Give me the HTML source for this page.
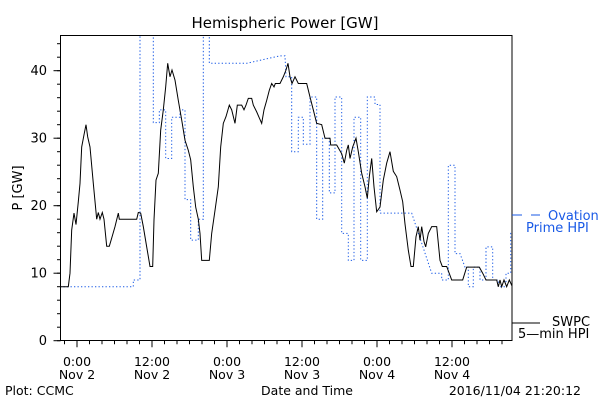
<!DOCTYPE html>
<html><head><meta charset="utf-8"><style>
html,body{margin:0;padding:0;background:#fff;}
svg{display:block;font-family:"DejaVu Sans","Liberation Sans",sans-serif;}
</style></head><body>
<svg id="chart" width="600" height="400" viewBox="0 0 600 400">
<defs><clipPath id="plotclip"><rect x="60.5" y="35.5" width="451.5" height="305"/></clipPath></defs>
<text x="285" y="28" text-anchor="middle" font-size="15" fill="#000">Hemispheric Power [GW]</text>
<text transform="translate(22,188) rotate(-90)" text-anchor="middle" font-size="13" fill="#000">P [GW]</text>
<text x="307" y="395" text-anchor="middle" font-size="12.5" fill="#000">Date and Time</text>
<text x="5" y="395" font-size="12.5" fill="#000">Plot: CCMC</text>
<text x="581" y="395" text-anchor="end" font-size="12.5" fill="#000">2016/11/04 21:20:12</text>
<g id="axes"></g>
<g id="series" clip-path="url(#plotclip)"></g>
<rect x="60.5" y="35.5" width="451.5" height="305" fill="none" stroke="#000" stroke-width="1"/>
<g>
<line x1="512" y1="215" x2="522" y2="215" stroke="#1a5ae6" stroke-width="1"/>
<line x1="531" y1="215" x2="540" y2="215" stroke="#1a5ae6" stroke-width="1"/>
<text x="548" y="220" font-size="13" fill="#1a5ae6">Ovation</text>
<text x="526" y="232" font-size="13" fill="#1a5ae6">Prime HPI</text>
</g>
<g>
<line x1="512" y1="323" x2="540" y2="323" stroke="#000" stroke-width="1"/>
<text x="552" y="326" font-size="13" fill="#000">SWPC</text>
<text x="518" y="338" font-size="13" fill="#000">5—min HPI</text>
</g>
</svg>
<script>
const swpcHours=[-2.72,-1.39,-1.12,-0.85,-0.48,-0.16,0.21,0.48,0.75,1.12,1.44,1.71,2.08,2.61,3.15,3.41,3.68,4.05,4.32,4.75,5.17,5.55,6.08,6.61,6.77,9.55,9.81,10.19,10.61,11.15,11.68,12.11,12.32,12.64,13.01,13.39,13.81,14.19,14.51,14.88,15.2,15.68,16.21,16.75,17.28,17.81,18.19,18.61,18.99,19.41,19.68,19.95,21.17,21.55,22.08,22.61,22.99,23.41,23.84,24.37,24.75,25.28,25.65,26.35,26.72,27.04,27.41,27.95,28.21,28.75,29.17,29.55,29.92,30.35,30.77,31.15,31.52,31.73,32.48,33.01,33.44,33.76,34.08,34.4,34.88,35.41,36.75,37.28,37.81,38.35,39.15,39.68,40.48,40.59,41.55,42.35,42.77,43.15,43.41,43.68,44.11,44.64,45.01,45.55,46.08,46.45,46.77,47.15,47.52,47.95,48.48,49.01,49.55,50.08,50.61,51.15,51.68,52.11,52.48,53.01,53.44,53.81,54.24,54.61,54.88,55.15,55.52,55.79,56.21,56.75,57.55,58.08,58.45,59.15,59.95,61.71,62.35,64.37,64.91,65.44,67.15,67.41,67.68,67.95,68.32,68.75,69.17,69.65];
const swpcValues=[8,8,10,16.4,18.9,17.2,20.6,23.3,28.7,30.5,32,30.2,28.7,23.3,18,19,18,19,18,14,14,15.2,16.9,18.9,18,18,19,18.9,16.9,13.9,11,11,17.9,23.8,24.8,31.2,34.2,37.6,41.1,39.1,40.1,38.6,35.6,32.7,29.7,28.2,26.8,22.8,19.8,18,15.9,11.9,11.9,15.9,19.3,22.8,28.7,32.2,33.2,34.9,34.2,32.2,34.9,34.9,34.2,34.9,35.9,35.9,34.9,33.9,33,32.2,34.2,35.6,37.1,38.1,37.6,38.1,38.1,39.1,40.1,41.1,39.1,38.1,39.1,38.1,38.1,36.1,34.2,32.2,32,30,30,29,29,27.7,26.3,28.2,29,27,28.7,30,28,24.8,22.8,21.1,24.3,27,22.8,19.1,19.8,23.8,26.3,28,25.1,24.3,22.3,20.6,17.3,13.4,11,11,15.4,16.9,14.9,16.9,14.7,13.9,15.9,16.9,16.9,11.9,11,11,9,9,10.9,10.9,10,9,9,8,9,8,9,8,9,8];
const ovationHours=[-2.72,9.01,9.01,10.08,10.08,12.21,12.21,13.17,13.17,14.19,14.19,15.15,15.15,16.48,16.48,17.28,17.28,18.19,18.19,19.41,19.41,20.21,20.21,21.17,21.17,27.15,32.48,33.28,33.44,34.35,34.35,35.41,35.41,36.21,36.21,37.28,37.28,38.35,38.35,39.31,39.31,40.37,40.37,41.28,41.28,42.35,42.35,43.41,43.41,44.32,44.32,45.39,45.39,46.45,46.45,47.68,47.68,48.48,48.48,53.55,56.75,58.35,58.35,59.41,59.41,60.48,60.48,61.28,62.08,62.61,62.61,63.41,63.41,64.48,64.48,65.44,65.44,66.51,66.51,67.41,67.41,68.64,68.64,69.39,69.39,69.65];
const ovationValues=[8,8,9,9,46,46,32.3,32.3,34.2,34.2,27,27,33.1,33.1,34.2,34.2,20.9,20.9,14.9,14.9,18,18,46,46,41.1,41.1,42.2,42.2,39.1,39.1,28,28,33.1,33.1,29.1,29.1,36.1,36.1,18,18,30,30,21.9,21.9,36.1,36.1,15.9,15.9,11.9,11.9,33.1,33.1,11.9,11.9,36.1,36.1,35,35,18.9,18.9,10,10,9,9,26,26,12.9,12.9,10.9,10.9,8,8,10.9,10.9,9,9,13.9,13.9,9,9,8,8,10,10,15.9,15.9];
const xTickHours=[0,12,24,36,48,60];
const xTickTimes=["0:00","12:00","0:00","12:00","0:00","12:00"];
const xTickDays=["Nov 2","Nov 2","Nov 3","Nov 3","Nov 4","Nov 4"];
const yTickValues=[0,10,20,30,40];

const NS="http://www.w3.org/2000/svg";
const X0=77, XPH=6.25, Y0=340.7, YPU=6.75, LEFT=60.5, RIGHT=512, TOP=35.5, BOTTOM=340.7;
function xs(h){return X0+XPH*h;}
function ys(v){return Y0-YPU*v;}
function mk(tag,attrs,parent){const e=document.createElementNS(NS,tag);for(const k in attrs)e.setAttribute(k,attrs[k]);parent.appendChild(e);return e;}
const axes=document.getElementById('axes');
const series=document.getElementById('series');

for(let v=0;v<=45;v+=2){
  const t=mk('line',{x1:LEFT,x2:LEFT-3.5,y1:ys(v),y2:ys(v),stroke:'#000','stroke-width':1},axes);
  
  
}
yTickValues.forEach(v=>{
  const t=mk('line',{x1:LEFT,x2:LEFT-7,y1:ys(v),y2:ys(v),stroke:'#000','stroke-width':1},axes);
  
  
  const l=mk('text',{x:47,y:ys(v)+4.5,'text-anchor':'end','font-size':13,fill:'#000'},axes);
  l.textContent=String(v);
  
  
});
for(let h=-2;h<=69;h+=2){
  const t=mk('line',{x1:xs(h),x2:xs(h),y1:BOTTOM,y2:BOTTOM+3.5,stroke:'#000','stroke-width':1},axes);
  
  
}
xTickHours.forEach((h,i)=>{
  const t=mk('line',{x1:xs(h),x2:xs(h),y1:BOTTOM,y2:BOTTOM+6.5,stroke:'#000','stroke-width':1},axes);
  
  
  const l1=mk('text',{x:xs(h),y:366,'text-anchor':'middle','font-size':12.5,fill:'#000'},axes);
  l1.textContent=xTickTimes[i];
  
  
  const l2=mk('text',{x:xs(h),y:379,'text-anchor':'middle','font-size':12.5,fill:'#000'},axes);
  l2.textContent=xTickDays[i];
  
  
});
function pts(hs,vs){return hs.map((h,i)=>xs(h).toFixed(2)+','+ys(vs[i]).toFixed(2)).join(' ');}
const ov=mk('polyline',{points:pts(ovationHours,ovationValues),fill:'none',stroke:'#1a5ae6','stroke-width':1,'stroke-dasharray':'1.3 2.2'},series);


const sw=mk('polyline',{points:pts(swpcHours,swpcValues),fill:'none',stroke:'#000','stroke-width':1},series);


</script>
</body></html>
